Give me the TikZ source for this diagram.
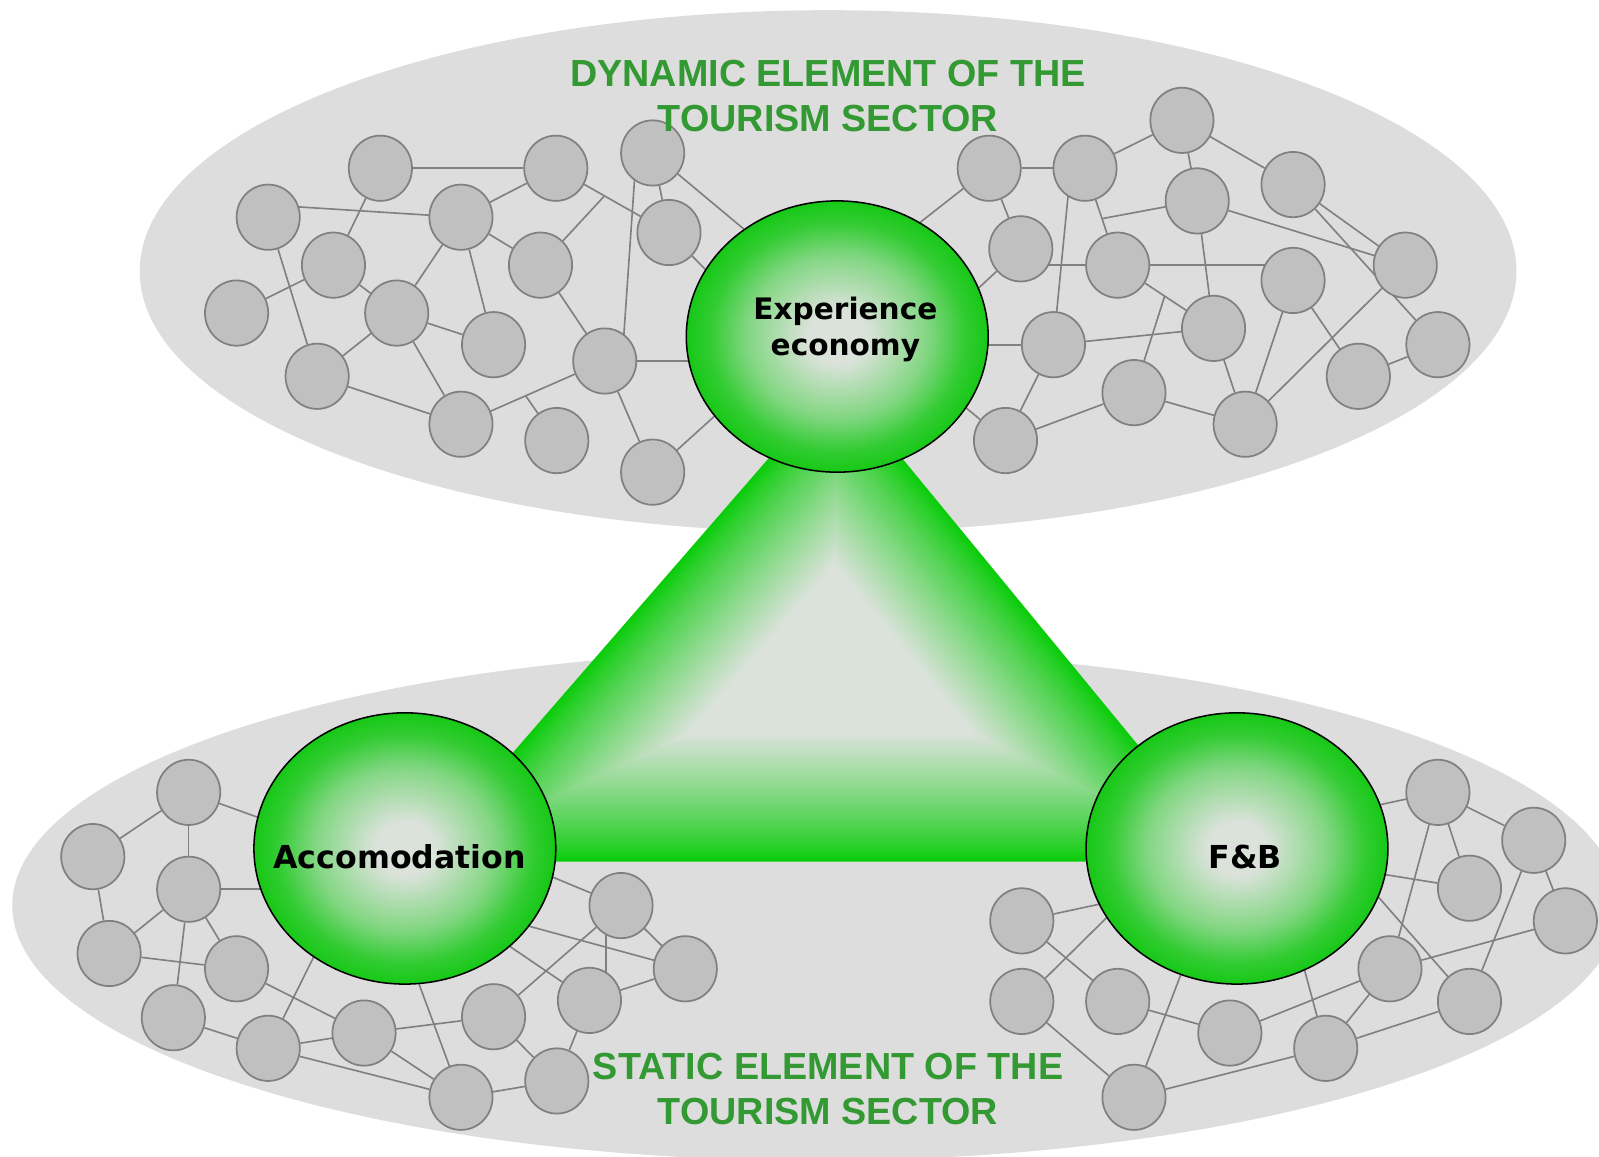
\documentclass[tikz,border=0pt]{standalone}
\usepackage{fontspec}
\usetikzlibrary{shapes.geometric,calc}
\newfontfamily\titlefont{Liberation Sans}
\newfontfamily\lblfont{DejaVu Sans}
\definecolor{bgc}{HTML}{DDDDDD}
\definecolor{circf}{HTML}{C0C0C0}
\definecolor{circb}{HTML}{808080}
\definecolor{linec}{HTML}{808080}
\definecolor{titc}{HTML}{339933}
\definecolor{ballc}{HTML}{DAE2DA}
\definecolor{ballg}{HTML}{16C816}
\definecolor{trig}{HTML}{0ACC0A}
\pgfdeclareradialshading{ballshade}{\pgfpoint{0bp}{0bp}}{color(0bp)=(ballc); color(5bp)=(ballc); color(15bp)=(ballc!55!ballg); color(21bp)=(ballc!15!ballg); color(25bp)=(ballg); color(50bp)=(ballg)}
\pgfdeclarelayer{bg}\pgfdeclarelayer{mid}\pgfsetlayers{bg,mid,main}
\tikzset{
  sm/.style={ellipse, draw=circb, fill=circf, line width=1.7pt, minimum width=62pt, minimum height=64pt, inner sep=0pt},
  big/.style={ellipse, draw=black, line width=1.5pt, shade, shading=ballshade, minimum width=296pt, minimum height=266pt, inner sep=0pt},
  lnk/.style={draw=linec, line width=1.6pt},
  ttl/.style={font=\titlefont\bfseries\fontsize{37}{44}\selectfont, text=titc, align=center, inner sep=0pt},
  lblE/.style={font=\lblfont\bfseries\fontsize{29}{35}\selectfont, align=center, inner sep=0pt},
  lblA/.style={font=\lblfont\bfseries\fontsize{31}{36}\selectfont, inner sep=0pt}
}
\begin{document}
\begin{tikzpicture}[x={(1pt,0)}, y={(0,-1pt)}]
\useasboundingbox (0,0) rectangle (1568,1134);
\clip (0,0) rectangle (1568,1134);
% background ellipses
\begin{pgfonlayer}{bg}
  \fill[bgc] (812,266) ellipse [x radius=675, y radius=256];
  \fill[bgc] (800,888) ellipse [x radius=788, y radius=250];
\end{pgfonlayer}
% big nodes
\node[big] (E) at (821,330) {};
\node[big] (A) at (397,832) {};
\node[big] (F) at (1213,832) {};
\node[lblE] (Et) at (829,323) {Experience\\economy};
\node[lblA] (At) at (392,840) {Accomodation};
\node[lblA] (Ft) at (1221,840) {F\&B};
% upper left
\node[sm] (u1) at (373,165) {};
\node[sm] (u2) at (545,165) {};
\node[sm] (u3) at (640,150) {};
\node[sm] (u4) at (263,213) {};
\node[sm] (u5) at (452,213) {};
\node[sm] (u6) at (656,228) {};
\node[sm] (u7) at (327,260) {};
\node[sm] (u8) at (530,260) {};
\node[sm] (u9) at (232,307) {};
\node[sm] (u10) at (389,307) {};
\node[sm] (u11) at (484,338) {};
\node[sm] (u12) at (593,354) {};
\node[sm] (u13) at (311,369) {};
\node[sm] (u14) at (452,416) {};
\node[sm] (u15) at (546,432) {};
\node[sm] (u16) at (640,463) {};
% upper right
\node[sm] (r1) at (970,165) {};
\node[sm] (r2) at (1064,165) {};
\node[sm] (r3) at (1159,118) {};
\node[sm] (r4) at (1268,181) {};
\node[sm] (r5) at (1174,197) {};
\node[sm] (r6) at (1001,244) {};
\node[sm] (r7) at (1096,260) {};
\node[sm] (r8) at (1268,275) {};
\node[sm] (r9) at (1378,260) {};
\node[sm] (r10) at (1033,338) {};
\node[sm] (r11) at (1190,322) {};
\node[sm] (r12) at (1410,338) {};
\node[sm] (r13) at (1332,369) {};
\node[sm] (r14) at (1112,385) {};
\node[sm] (r15) at (1221,416) {};
\node[sm] (r16) at (986,432) {};
% lower left
\node[sm] (l1) at (185,777) {};
\node[sm] (l2) at (91,840) {};
\node[sm] (l3) at (185,872) {};
\node[sm] (l4) at (107,935) {};
\node[sm] (l5) at (232,950) {};
\node[sm] (l6) at (170,998) {};
\node[sm] (l7) at (263,1028) {};
\node[sm] (l8) at (357,1013) {};
\node[sm] (l9) at (484,997) {};
\node[sm] (l10) at (578,981) {};
\node[sm] (l11) at (609,888) {};
\node[sm] (l12) at (672,950) {};
\node[sm] (l13) at (452,1076) {};
\node[sm] (l14) at (546,1060) {};
% lower right
\node[sm] (f1) at (1410,777) {};
\node[sm] (f2) at (1504,824) {};
\node[sm] (f3) at (1441,871) {};
\node[sm] (f4) at (1535,903) {};
\node[sm] (f5) at (1002,903) {};
\node[sm] (f6) at (1002,982) {};
\node[sm] (f7) at (1096,982) {};
\node[sm] (f8) at (1206,1013) {};
\node[sm] (f9) at (1363,950) {};
\node[sm] (f10) at (1441,982) {};
\node[sm] (f11) at (1300,1028) {};
\node[sm] (f12) at (1112,1076) {};
% titles
\node[ttl] (t1) at (812,94) {DYNAMIC ELEMENT OF THE\\TOURISM SECTOR};
\node[ttl] (t2) at (812,1068) {STATIC ELEMENT OF THE\\TOURISM SECTOR};
% junction points
\coordinate (tj1) at ($(u2)!0.43!(u6)$);
\coordinate (tj2) at ($(u14)!0.45!(u12)$);
\coordinate (tj3) at ($(r2)!0.52!(r7)$);
\coordinate (tj4) at ($(r7)!0.49!(r11)$);
\coordinate (ta) at (821,372);
\coordinate (tb) at (410,845);
\coordinate (tc) at (1210,845);
\coordinate (ti) at (817,652);
\begin{pgfonlayer}{mid}
  % upper left edges
  \draw[lnk] (u1) -- (u2);
  \draw[lnk] ([yshift=12pt]u4.center) -- (u5.center);
  \draw[lnk] (u1) -- (u7);
  \draw[lnk] (u5) -- (u2);
  \draw[lnk] (u2) -- (u6);
  \draw[lnk] (u8) -- (tj1);
  \draw[lnk] (u3) -- (u6);
  \draw[lnk] (u3) -- (E.131);
  \draw[lnk] (u6) -- (E.153);
  \draw[lnk] ([xshift=-16pt]u3.center) -- ([xshift=17pt]u12.center);
  \draw[lnk] (u5) -- (u8);
  \draw[lnk] (u5) -- (u10);
  \draw[lnk] (u5) -- (u11);
  \draw[lnk] (u4) -- (u13);
  \draw[lnk] (u9) -- (u7);
  \draw[lnk] (u7) -- (u10);
  \draw[lnk] (u10) -- (u11);
  \draw[lnk] (u10) -- (u13);
  \draw[lnk] (u10) -- (u14);
  \draw[lnk] (u13) -- (u14);
  \draw[lnk] (u14) -- (u12);
  \draw[lnk] (u15) -- (tj2);
  \draw[lnk] (u8) -- (u12);
  \draw[lnk] (u12.center) -- (u12 -| E);
  \draw[lnk] (u12) -- (u16);
  \draw[lnk] (u16) -- (E.213);
  % upper right edges
  \draw[lnk] (r1) -- (r2);
  \draw[lnk] (r2) -- (r3);
  \draw[lnk] (r3) -- (r5);
  \draw[lnk] (r3) -- (r4);
  \draw[lnk] (r1) -- (E.54);
  \draw[lnk] (r1) -- (r6);
  \draw[lnk] (r2) -- (r7);
  \draw[lnk] ([xshift=-14pt]r2.center) -- (r10.center);
  \draw[lnk] (r5) -- (tj3);
  \draw[lnk] (r5) -- (r11);
  \draw[lnk] (r5) -- (r9);
  \draw[lnk] (r4) -- (r9);
  \draw[lnk] (r4) -- (r12);
  \draw[lnk] (r6) -- (E.19);
  \draw[lnk] (r6 |- r7) -- (r7.center);
  \draw[lnk] (r7.center) -- (r7 -| r8);
  \draw[lnk] (r7) -- (r11);
  \draw[lnk] (r14) -- (tj4);
  \draw[lnk] (r10.center) -- (r10 -| E);
  \draw[lnk] (r10) -- (r11);
  \draw[lnk] (r10) -- (r16);
  \draw[lnk] (r16) -- (E.331);
  \draw[lnk] (r16) -- (r14);
  \draw[lnk] (r14) -- (r15);
  \draw[lnk] (r11) -- (r15);
  \draw[lnk] (r8) -- (r15);
  \draw[lnk] (r8) -- (r13);
  \draw[lnk] (r9) -- (r15);
  \draw[lnk] (r13) -- (r12);
  % lower left edges
  \draw[lnk] (l1) -- (l2);
  \draw[lnk] (l1) -- (l3);
  \draw[lnk] (l1) -- (A.168);
  \draw[lnk] (l2) -- (l4);
  \draw[lnk] (l3.center) -- (l3 -| A);
  \draw[lnk] (l3) -- (l4);
  \draw[lnk] (l3) -- (l5);
  \draw[lnk] (l3) -- (l6);
  \draw[lnk] (l4) -- (l5);
  \draw[lnk] (l5) -- (l8);
  \draw[lnk] (l6) -- (l7);
  \draw[lnk] (l7) -- (A.230);
  \draw[lnk] (l7) -- (l8);
  \draw[lnk] (l7) -- (l13);
  \draw[lnk] (l8) -- (l9);
  \draw[lnk] (l8) -- (l13);
  \draw[lnk] (A.276) -- (l13);
  \draw[lnk] (l9) -- (l11);
  \draw[lnk] (l9) -- (l14);
  \draw[lnk] (l13) -- (l14);
  \draw[lnk] (l14) -- (l10);
  \draw[lnk] ([xshift=-15pt]l11.center) -- ([xshift=16pt]l10.center);
  \draw[lnk] (A.317) -- (l10);
  \draw[lnk] (A.328) -- (l12);
  \draw[lnk] (A.349) -- (l11);
  \draw[lnk] (l11) -- (l12);
  \draw[lnk] (l10) -- (l12);
  % lower right edges
  \draw[lnk] (f1) -- (F.17);
  \draw[lnk] (f1) -- (f2);
  \draw[lnk] (f1) -- (f3);
  \draw[lnk] (f1) -- (f9);
  \draw[lnk] (f2) -- (f4);
  \draw[lnk] (f2) -- (f10);
  \draw[lnk] (F.350) -- (f3);
  \draw[lnk] (F.341) -- (f10);
  \draw[lnk] (f4) -- (f9);
  \draw[lnk] (f5) -- (F.202);
  \draw[lnk] (f5) -- (f7);
  \draw[lnk] (f6) -- (F.208);
  \draw[lnk] (f6) -- (f12);
  \draw[lnk] (f7) -- (f8);
  \draw[lnk] (F.246) -- (f12);
  \draw[lnk] (f8) -- (f9);
  \draw[lnk] (F.299) -- (f11);
  \draw[lnk] (f11) -- (f9);
  \draw[lnk] (f11) -- (f10);
  \draw[lnk] (f11) -- (f12);
  % triangle: path gradient from edges to centre
  \foreach \i in {0,...,79} {
    \pgfmathsetmacro\s{1-\i/80}
    \pgfmathtruncatemacro\p{min(100,100*(\i/80/0.64)^0.85)}
    \fill[ballc!\p!trig] ($(ti)!\s!(ta)$) -- ($(ti)!\s!(tb)$) -- ($(ti)!\s!(tc)$) -- cycle;
  }
\end{pgfonlayer}
\end{tikzpicture}
\end{document}
